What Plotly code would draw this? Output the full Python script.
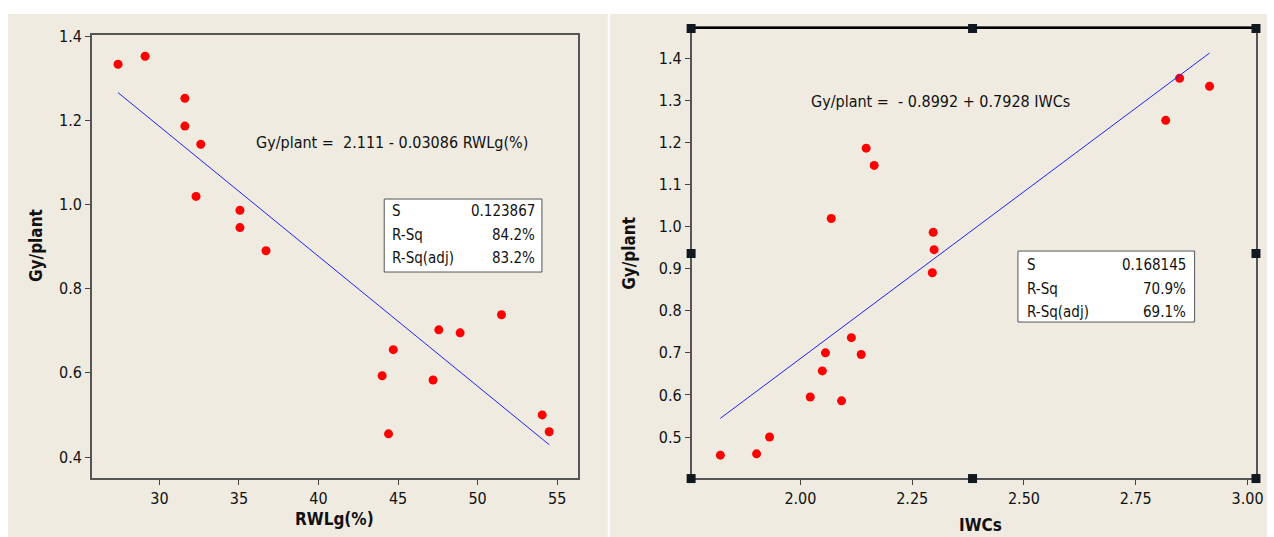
import plotly.graph_objects as go
import numpy as np

W, H = 1274, 537

# ---- data (left panel) ----
rwlg = [27.4, 29.1, 31.6, 31.6, 32.6, 32.3, 35.06, 35.06, 36.7, 44.0, 44.7, 44.4,
        47.56, 47.2, 48.9, 51.5, 54.06, 54.5]
gy_left = [1.333, 1.352, 1.252, 1.186, 1.143, 1.019, 0.986, 0.945, 0.890, 0.593, 0.655,
           0.455, 0.702, 0.583, 0.695, 0.738, 0.500, 0.460]
left_coef = [2.111, -0.03086]
left_eq = "Gy/plant =  2.111 - 0.03086 RWLg(%)"
left_stats_labels = ["S", "R-Sq", "R-Sq(adj)"]
left_stats_values = ["0.123867", "84.2%", "83.2%"]
left_xticks = [30, 35, 40, 45, 50, 55]
left_yticks = [0.4, 0.6, 0.8, 1.0, 1.2, 1.4]

# ---- data (right panel) ----
iwcs = [1.821, 1.902, 1.931, 2.022, 2.049, 2.056, 2.092, 2.069, 2.114, 2.136, 2.147,
        2.165, 2.297, 2.299, 2.295, 2.817, 2.848, 2.915]
gy_right = [0.457, 0.460, 0.500, 0.595, 0.657, 0.700, 0.586, 1.019, 0.736, 0.696, 1.186,
            1.145, 0.986, 0.945, 0.890, 1.252, 1.352, 1.333]
right_coef = [-0.8992, 0.7928]
right_eq = "Gy/plant =  - 0.8992 + 0.7928 IWCs"
right_stats_labels = ["S", "R-Sq", "R-Sq(adj)"]
right_stats_values = ["0.168145", "70.9%", "69.1%"]
right_xticks = [2.00, 2.25, 2.50, 2.75, 3.00]
right_yticks = [0.5, 0.6, 0.7, 0.8, 0.9, 1.0, 1.1, 1.2, 1.3, 1.4]

FONT = "DejaVu Sans Condensed, Liberation Sans, Arial, sans-serif"
BEIGE = "#EFEBE1"
TXT = "#111111"

def px(x):
    return min(1.0, max(0.0, (x / 0.9965) / W))

def py(y):
    return min(1.0, max(0.0, 1 - ((y - 8) / 0.985) / H))

fig = go.Figure()

fig.add_trace(go.Scatter(x=rwlg, y=gy_left, mode="markers",
                         marker=dict(color="#FF0000", size=9, line=dict(width=0)),
                         xaxis="x", yaxis="y", showlegend=False))
lx = np.array([min(rwlg), max(rwlg)])
fig.add_trace(go.Scatter(x=lx, y=left_coef[0] + left_coef[1] * lx, mode="lines",
                         line=dict(color="#2020FF", width=1),
                         xaxis="x", yaxis="y", showlegend=False))
fig.add_trace(go.Scatter(x=iwcs, y=gy_right, mode="markers",
                         marker=dict(color="#FF0000", size=9, line=dict(width=0)),
                         xaxis="x2", yaxis="y2", showlegend=False))
rx = np.array([min(iwcs), max(iwcs)])
fig.add_trace(go.Scatter(x=rx, y=right_coef[0] + right_coef[1] * rx, mode="lines",
                         line=dict(color="#2020FF", width=1),
                         xaxis="x2", yaxis="y2", showlegend=False))

axis_common = dict(showgrid=False, zeroline=False, showline=True, mirror=True,
                   linecolor="#555555", linewidth=1.5, ticks="outside", ticklen=5,
                   tickcolor="#444444", tickwidth=1,
                   tickfont=dict(family=FONT, size=16, color=TXT))

fig.update_layout(
    width=W, height=H, margin=dict(l=0, r=0, t=0, b=0),
    paper_bgcolor="white", plot_bgcolor="white",
    xaxis=dict(domain=[px(92), px(579)], range=[25.75, 56.3], tickvals=left_xticks,
               anchor="y", **axis_common),
    yaxis=dict(domain=[py(478), py(35)], range=[0.35, 1.4024], tickvals=left_yticks,
               tickformat=".1f", anchor="x", **axis_common),
    xaxis2=dict(domain=[px(693), px(1259)], range=[1.7567, 3.020], tickvals=right_xticks,
                tickformat=".2f", anchor="y2", **axis_common),
    yaxis2=dict(domain=[py(478), py(28)], range=[0.4026, 1.4713], tickvals=right_yticks,
                tickformat=".1f", anchor="x2", **axis_common),
)

shapes = []
shapes.append(dict(type="rect", xref="paper", yref="paper", x0=px(8), x1=px(609),
                   y0=0, y1=py(14), fillcolor=BEIGE, line=dict(width=0), layer="below"))
shapes.append(dict(type="rect", xref="paper", yref="paper", x0=px(611), x1=px(1272),
                   y0=0, y1=py(14), fillcolor=BEIGE, line=dict(width=0), layer="below"))
shapes.append(dict(type="line", xref="paper", yref="paper", x0=px(693), x1=px(1259),
                   y0=py(28), y1=py(28), line=dict(color="black", width=2)))
shapes.append(dict(type="rect", xref="paper", yref="paper", x0=px(385), x1=px(543),
                   y0=py(272), y1=py(199), line=dict(color="#555555", width=1),
                   fillcolor="white"))
shapes.append(dict(type="rect", xref="paper", yref="paper", x0=px(1020), x1=px(1197),
                   y0=py(322), y1=py(251), line=dict(color="#555555", width=1),
                   fillcolor="white"))
for hx in (693, 975, 1259):
    for hy in (28, 253, 478):
        if hx == 975 and hy == 253:
            continue
        shapes.append(dict(type="rect", xref="paper", yref="paper",
                           x0=px(hx - 5), x1=px(hx + 4), y0=py(hy + 5), y1=py(hy - 4),
                           fillcolor="#111820", line=dict(width=0)))
fig.update_layout(shapes=shapes)

ann = []
def text(x, y, s, size=16, bold=False, xanchor="center", angle=0):
    ann.append(dict(xref="paper", yref="paper", x=px(x), y=py(y), text=("<b>%s</b>" % s) if bold else s,
                    showarrow=False, xanchor=xanchor, yanchor="middle", textangle=angle,
                    font=dict(family=FONT, size=size, color=TXT)))

text(393, 142, left_eq, size=16)
text(942, 101, right_eq, size=16)
for i, (lab, val) in enumerate(zip(left_stats_labels, left_stats_values)):
    yy = 211 + i * 23.5
    text(391, yy, lab, size=15, xanchor="left")
    text(538, yy, val, size=15, xanchor="right")
for i, (lab, val) in enumerate(zip(right_stats_labels, right_stats_values)):
    yy = 265 + i * 23.5
    text(1027, yy, lab, size=15, xanchor="left")
    text(1190, yy, val, size=15, xanchor="right")

text(335, 519, "RWLg(%)", size=17, bold=True)
text(36, 245, "Gy/plant", size=17, bold=True, angle=-90)
text(982, 525, "IWCs", size=17, bold=True)
text(630, 253, "Gy/plant", size=17, bold=True, angle=-90)
fig.update_layout(annotations=ann)

fig.write_html("out.html")
